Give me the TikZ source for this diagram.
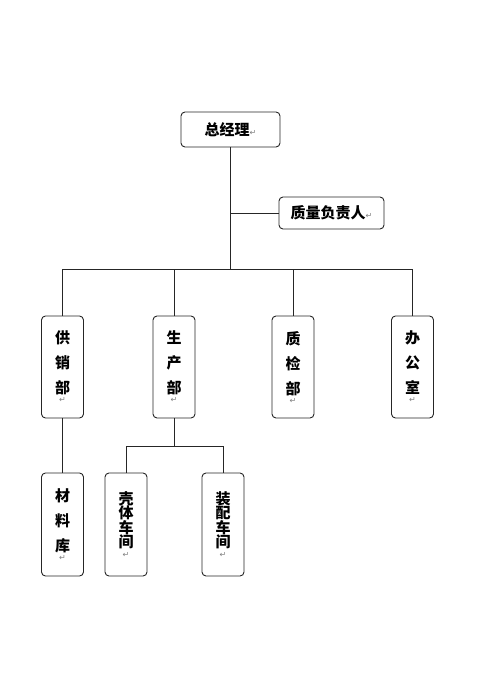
\documentclass[tikz,border=0pt]{standalone}
\usepackage{xcolor}
\usepackage{tikz}
\usepackage{fontspec}
\newfontfamily\cjk{Noto Sans CJK SC}
\newfontfamily\dejavu{DejaVu Sans}
\newcommand{\retour}{{\dejavu\mdseries\color{gray}\fontsize{8}{8}\selectfont ↵}}

\begin{document}
\begin{tikzpicture}[x=1pt,y=-1pt]
% Styles (MODIFIABLES)
\tikzstyle{trait}=[line width=0.9pt,black!85]
\tikzstyle{cadre}=[draw=black!85,line width=0.9pt,rounded corners=4pt,inner sep=0pt,align=center,fill=white]
\tikzstyle{horizontal}=[cadre,font=\cjk\bfseries\fontsize{15}{18}\selectfont]
\tikzstyle{vertical}=[cadre,minimum width=42pt,minimum height=102pt,font=\cjk\bfseries\fontsize{15}{25}\selectfont]
\tikzstyle{serre}=[vertical,minimum height=103pt,font=\cjk\bfseries\fontsize{15}{14.5}\selectfont]
% Dimensions (MODIFIABLES)
\def\NiveauA{129.5}
\def\NiveauB{367}
\def\NiveauC{524.5}
\def\BusA{269}
\def\BusB{446}
% Cadre de la page
\useasboundingbox (0,0) rectangle (500,700);
% Noeuds
\node[horizontal,minimum width=99pt,minimum height=35pt] (R) at (230.5,\NiveauA) {总经理\retour};
\node[horizontal,minimum width=105pt,minimum height=32pt] (Rq) at (331.5,213) {质量负责人\retour};
\node[vertical] (Ra) at (62.5,\NiveauB) {供\\销\\部\\[-16pt]\retour};
\node[vertical] (Rb) at (174,\NiveauB) {生\\产\\部\\[-16pt]\retour};
\node[vertical] (Rc) at (293,\NiveauB) {质\\检\\部\\[-16pt]\retour};
\node[vertical] (Rd) at (412.5,\NiveauB) {办\\公\\室\\[-16pt]\retour};
\node[vertical,minimum height=103pt] (Raa) at (62.5,\NiveauC) {材\\料\\库\\[-16pt]\retour};
\node[serre] (Rba) at (126,\NiveauC) {壳\\体\\车\\间\\[-5pt]\retour};
\node[serre] (Rbb) at (223,\NiveauC) {装\\配\\车\\间\\[-5pt]\retour};
% Points de jonction
\coordinate (J) at (230,\BusA);
\coordinate (Jq) at (230,213);
\coordinate (Jb) at (174,\BusB);
% Arcs
\draw[trait] (R.south -| J) -- (J);
\draw[trait] (Jq) -- (Rq.west);
\draw[trait] (J) -| (Ra.north);
\draw[trait] (J) -| (Rb.north);
\draw[trait] (J) -| (Rc.north);
\draw[trait] (J) -| (Rd.north);
\draw[trait] (Ra.south) -- (Raa.north);
\draw[trait] (Rb.south) -- (Jb);
\draw[trait] (Jb) -| (Rba.north);
\draw[trait] (Jb) -| (Rbb.north);
\end{tikzpicture}
\end{document}
